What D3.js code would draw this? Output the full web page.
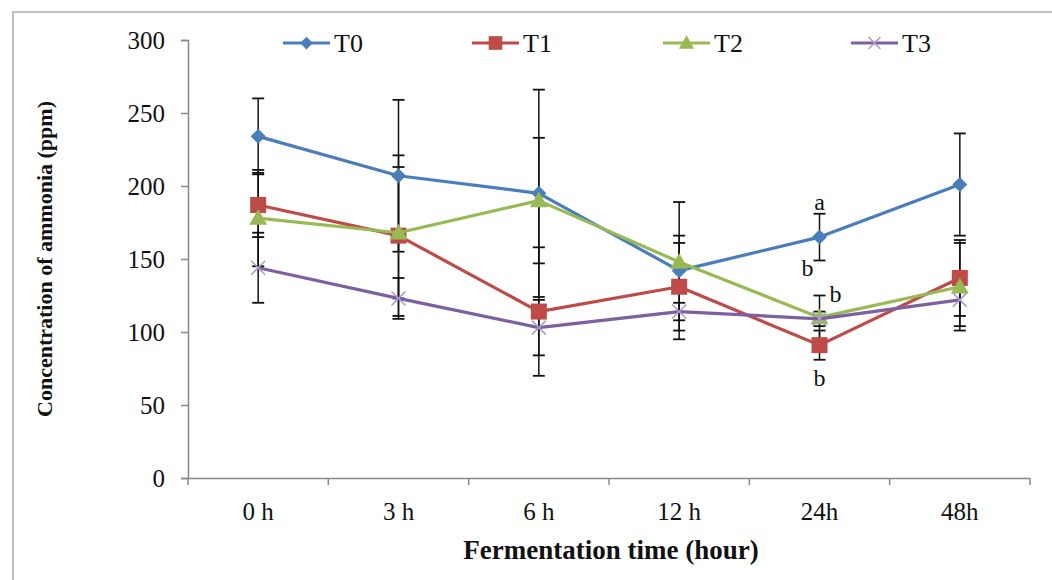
<!DOCTYPE html>
<html><head><meta charset="utf-8">
<script src="https://cdn.jsdelivr.net/npm/d3@7"></script>
<style>body{margin:0;background:#fff}svg{display:block}text{font-family:"Liberation Serif","Times New Roman",serif}</style>
</head><body><svg id="c" width="1052" height="580"></svg>
<script>
const categories = ["0 h","3 h","6 h","12 h","24h","48h"];
const seriesNames = ["T0","T1","T2","T3"];
const t0 = [234,207,195,142,165,201];
const t1 = [187,166,114,131,91,137];
const t2 = [178,168,190,148,110,131];
const t3 = [144,123,103,114,109,122];
const e0 = [26,52,71,47,16,35];
const e1 = [22,55,44,30,10,26];
const e2 = [33,45,43,18,15,30];
const e3 = [24,14,19,6,5,18];
const yTicks = [0,50,100,150,200,250,300];
const letters = [ {s:0,c:"24h",t:"a",pos:"top"}, {s:0,c:"24h",t:"b",pos:"leftlow"}, {s:2,c:"24h",t:"b",pos:"right"}, {s:1,c:"24h",t:"b",pos:"below"} ];

const colors = ["#4a7ebb","#be4b48","#98b954","#7d60a0"];
const vals = [t0,t1,t2,t3], errs=[e0,e1,e2,e3];
const svg = d3.select("#c");
svg.append("path").attr("d","M13,580 V12 H1052").attr("fill","none").attr("stroke","#aaa").attr("stroke-width",1.5);

const x = d3.scaleBand().domain(categories).range([188,1030]);
const y = d3.scaleLinear().domain([0,300]).range([478,40]);
const cx = c => x(c)+x.bandwidth()/2;

const ya = svg.append("g").attr("transform","translate(188,0)")
  .call(d3.axisLeft(y).tickValues(yTicks).tickSize(7).tickPadding(16));
ya.select(".domain").attr("stroke","#888").attr("stroke-width",1.5);
ya.selectAll("line").attr("stroke","#888").attr("stroke-width",1.5);
ya.selectAll("text").attr("font-size",25).attr("fill","#111").style("font-family","Liberation Serif");

const xa = svg.append("g").attr("transform","translate(0,478)")
  .call(d3.axisBottom(x).tickSize(0).tickPadding(24).tickSizeOuter(0));
xa.select(".domain").attr("stroke","#888").attr("stroke-width",1.5);
xa.selectAll("text").attr("font-size",25).attr("fill","#111").style("font-family","Liberation Serif");
const bounds = categories.map(c=>x(c)).concat([x(categories[categories.length-1])+x.bandwidth()]);
svg.append("g").selectAll("line").data(bounds).join("line")
  .attr("x1",d=>d).attr("x2",d=>d).attr("y1",478).attr("y2",485).attr("stroke","#888").attr("stroke-width",1.5);

svg.append("text").attr("transform","translate(52,259) rotate(-90)").attr("text-anchor","middle")
  .attr("font-size",22).attr("font-weight","bold").attr("fill","#111").text("Concentration of ammonia  (ppm)");
svg.append("text").attr("x",611).attr("y",559).attr("text-anchor","middle")
  .attr("font-size",27).attr("font-weight","bold").attr("fill","#111").text("Fermentation  time (hour)");

const eg = svg.append("g");
vals.forEach((v,s)=>{
  categories.forEach((c,i)=>{
    const X=cx(c), lo=y(v[i]-errs[s][i]), hi=y(v[i]+errs[s][i]);
    eg.append("line").attr("x1",X).attr("x2",X).attr("y1",lo).attr("y2",hi).attr("stroke","#111").attr("stroke-width",1.5);
    [lo,hi].forEach(yy=>eg.append("line").attr("x1",X-6).attr("x2",X+6).attr("y1",yy).attr("y2",yy).attr("stroke","#111").attr("stroke-width",1.8));
  });
});

function marker(g,s,X,Y,sc){
  sc = sc||1;
  if(s===0){ const r=7.5*sc; g.append("path").attr("d",`M${X},${Y-r}L${X+r},${Y}L${X},${Y+r}L${X-r},${Y}Z`).attr("fill",colors[0]); }
  else if(s===1){ const r=8*sc; g.append("rect").attr("x",X-r).attr("y",Y-r).attr("width",2*r).attr("height",2*r).attr("fill",colors[1]); }
  else if(s===2){ const r=9*sc; g.append("path").attr("d",`M${X},${Y-r}L${X+r},${Y+r*0.75}L${X-r},${Y+r*0.75}Z`).attr("fill",colors[2]); }
  else { const r=7*sc; g.append("path").attr("d",`M${X-r},${Y-r}L${X+r},${Y+r}M${X-r},${Y+r}L${X+r},${Y-r}`).attr("stroke","#a99bc8").attr("stroke-width",1.5); }
}
const line = d3.line().x((d,i)=>cx(categories[i])).y(d=>y(d));
vals.forEach((v,s)=>{
  const g = svg.append("g");
  g.append("path").datum(v).attr("d",line).attr("fill","none").attr("stroke",colors[s]).attr("stroke-width",3.2).attr("stroke-linejoin","round");
  v.forEach((d,i)=>marker(g,s,cx(categories[i]),y(d)));
});

letters.forEach(L=>{
  const i=categories.indexOf(L.c), v=vals[L.s][i], e=errs[L.s][i], X=cx(L.c);
  let tx=X, ty, anchor="middle";
  if(L.pos==="top"){ ty=y(v+e)-4; }
  else if(L.pos==="below"){ ty=y(v-e)+26; }
  else if(L.pos==="leftlow"){ tx=X-6; ty=y(v-e)+16; anchor="end"; }
  else { tx=X+10; ty=y(v+e)+6; anchor="start"; }
  svg.append("text").attr("x",tx).attr("y",ty).attr("text-anchor",anchor).attr("font-size",24).attr("fill","#111").text(L.t);
});

const legX = [283,472,663,851];
seriesNames.forEach((n,s)=>{
  const g = svg.append("g");
  const X0=legX[s], Y0=43;
  g.append("line").attr("x1",X0).attr("x2",X0+47).attr("y1",Y0).attr("y2",Y0).attr("stroke",colors[s]).attr("stroke-width",3.2);
  marker(g,s,X0+23.5,Y0,0.85);
  g.append("text").attr("x",X0+51).attr("y",Y0+9).attr("font-size",26).attr("fill","#111").text(n);
});
</script></body></html>
